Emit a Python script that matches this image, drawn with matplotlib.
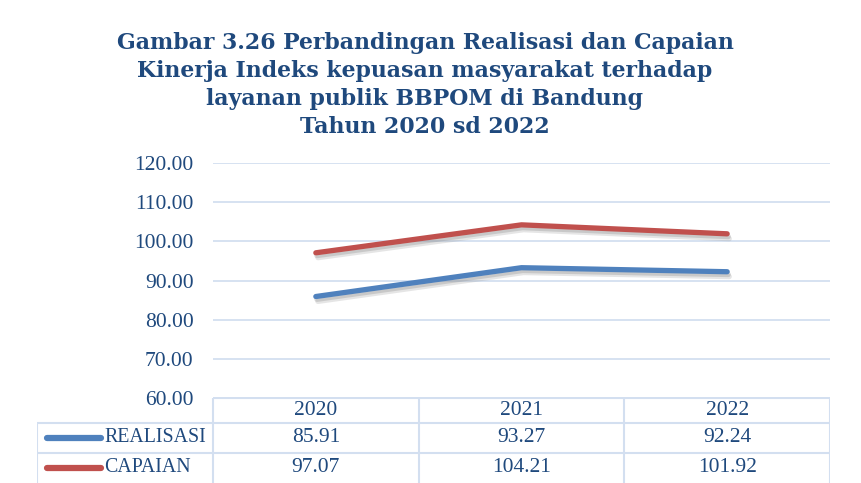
import matplotlib.pyplot as plt
import matplotlib.patheffects as pe

years = ["2020", "2021", "2022"]
realisasi = [85.91, 93.27, 92.24]
capaian = [97.07, 104.21, 101.92]
series_names = ["REALISASI", "CAPAIAN"]
yticks = [60, 70, 80, 90, 100, 110, 120]

TITLE = ("Gambar 3.26 Perbandingan Realisasi dan Capaian\n"
         "Kinerja Indeks kepuasan masyarakat terhadap\n"
         "layanan publik BBPOM di Bandung\n"
         "Tahun 2020 sd 2022")

BLUE = "#4F81BD"
RED = "#C0504D"
TEXT_BLUE = "#1F497D"
GRID = "#D3DFF0"
W, H = 862, 483

fig = plt.figure(figsize=(W / 100, H / 100), dpi=100)


def fx(px):
    return px / W


def fy(py):
    return 1 - py / H


# main plot area
ax = fig.add_axes([fx(213), fy(398), fx(830 - 213), fy(163) - fy(398)])
x = range(len(years))
shadow = [pe.SimpleLineShadow(offset=(1.5, -3.5), shadow_color="#999999", alpha=0.25),
          pe.SimpleLineShadow(offset=(0.8, -2), shadow_color="#888888", alpha=0.3),
          pe.Normal()]
ax.plot(x, realisasi, color=BLUE, lw=3.8, solid_capstyle="round",
        solid_joinstyle="round", path_effects=shadow)
ax.plot(x, capaian, color=RED, lw=3.8, solid_capstyle="round",
        solid_joinstyle="round", path_effects=shadow)
ax.set_xlim(-0.5, len(years) - 0.5)
ax.set_ylim(60, 120)
ax.set_yticks(yticks)
ax.set_yticklabels([f"{v:.2f}" for v in yticks], family="Liberation Serif",
                   fontsize=15.5, color=TEXT_BLUE)
ax.set_xticks([])
ax.tick_params(axis="y", length=0, pad=14)
ax.grid(axis="y", color=GRID, lw=1.3)
for s in ax.spines.values():
    s.set_visible(False)

fig.text(0.493, fy(32), TITLE, ha="center", va="top", family="DejaVu Serif",
         fontweight="bold", fontsize=15.8, color=TEXT_BLUE, linespacing=1.36)

# data table below the plot
left_px = 37
unit = (830 - 213) / len(years)
tax = fig.add_axes([fx(left_px), 0, fx(830 - left_px), fy(397)])
tax.set_xlim(-0.5 - (213 - left_px) / unit, len(years) - 0.5)
tax.set_ylim(483, 397)
tax.axis("off")

lc = dict(color=GRID, lw=1.5, solid_capstyle="butt")
tax.plot([-0.5, len(years) - 0.5], [398, 398], **lc)
tax.plot([-0.5 - (213 - left_px) / unit, len(years) - 0.5], [423, 423], **lc)
tax.plot([-0.5 - (213 - left_px) / unit, len(years) - 0.5], [453, 453], **lc)
for i in range(len(years) + 1):
    tax.plot([i - 0.5, i - 0.5], [398, 483], **lc)
tax.plot([-0.5 - (213 - left_px) / unit] * 2, [423, 483], **lc)

font = dict(family="Liberation Serif", fontsize=15.5, color=TEXT_BLUE)
for i, yr in enumerate(years):
    tax.text(i, 411, yr, ha="center", va="center", **font)

rows = [(realisasi, BLUE, 438), (capaian, RED, 468)]
key_x0 = -0.5 - (213 - 47) / unit
key_x1 = -0.5 - (213 - 101) / unit
for name, (vals, col, ry) in zip(series_names, rows):
    tax.plot([key_x0, key_x1], [ry, ry], color=col, lw=4.5, solid_capstyle="round")
    tax.text(-0.5 - (213 - 104) / unit, ry, name, ha="left", va="center",
             family="Liberation Serif", fontsize=14.3, color=TEXT_BLUE)
    for i, v in enumerate(vals):
        tax.text(i, ry, f"{v:.2f}", ha="center", va="center", **font)

fig.savefig("out.png", dpi=100)
